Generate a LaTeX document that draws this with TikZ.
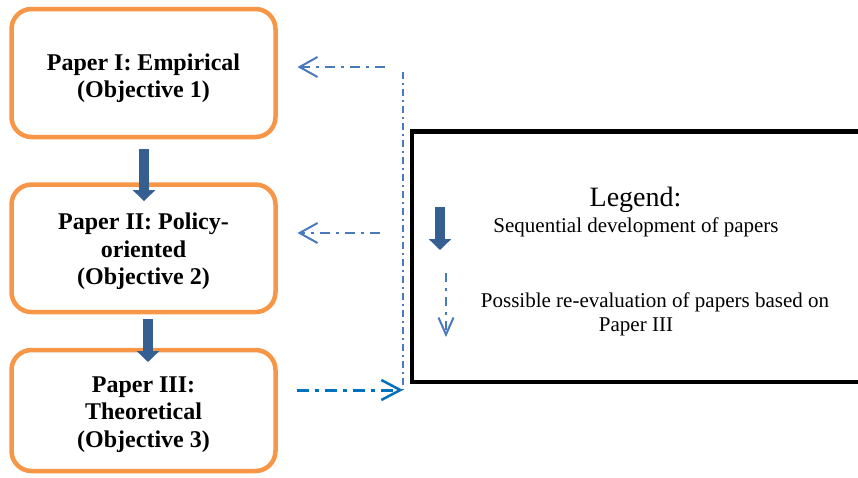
\documentclass[tikz,border=0pt]{standalone}
\usepackage{fontspec}
\setmainfont{Liberation Serif}
\usetikzlibrary{arrows.meta,calc}
\definecolor{boxorange}{RGB}{247,150,70}
\definecolor{seqblue}{RGB}{54,95,145}
\definecolor{evalblue}{RGB}{74,122,190}
\definecolor{evaldark}{RGB}{0,112,192}
\tikzset{
  every node/.style={outer sep=0pt},
  paperbox/.style={draw=boxorange, line width=4.5pt, rounded corners=20pt, fill=white,
    minimum width=264pt, inner sep=0pt},
  papertext/.style={inner sep=0pt, align=center,
    font=\fontsize{24}{27.5}\selectfont\bfseries},
  seqarrow/.style={draw=seqblue, line width=10pt,
    -{Triangle[length=11pt,width=22pt]}},
  evalline/.style={draw=evalblue, line width=2pt,
    dash pattern=on 10pt off 6pt on 3pt off 6pt},
  evalarrow/.style={evalline, -{Straight Barb[length=18pt,width=20pt,line width=2pt]}},
  vline/.style={draw=evalblue, line width=1.6pt,
    dash pattern=on 7pt off 4pt on 2pt off 4pt},
  legtext/.style={anchor=base, inner sep=0pt, font=\fontsize{21}{24}\selectfont},
}
\begin{document}
\begin{tikzpicture}[x=1pt,y=-1pt]
\useasboundingbox (0,0) rectangle (858,477);
\clip (0,0) rectangle (858,477);
% paper boxes
\node[paperbox, minimum height=128pt] (b1) at (143.5,73) {};
\node[paperbox, minimum height=127.5pt] (b2) at (143.5,248.3) {};
\node[paperbox, minimum height=121pt] (b3) at (143.5,410.5) {};
\node[papertext] (b1t) at ($(b1)+(0,5)$) {Paper I: Empirical\\(Objective 1)};
\node[papertext] (b2t) at ($(b2)+(0,3)$) {Paper II: Policy-\\oriented\\(Objective 2)};
\node[papertext] (b3t) at ($(b3)+(0,4)$) {Paper III:\\Theoretical\\(Objective 3)};
% sequential arrows
\draw[seqarrow] ($(b1.south)+(0.5,12)$) -- ($(b2.north)+(0.5,16.5)$);
\draw[seqarrow] ($(b2.south)+(4.5,7)$) -- ($(b3.north)+(4.5,12)$);
% re-evaluation connectors
\coordinate (vtop) at (403,72);
\coordinate (vbot) at (403,390);
\coordinate (r1) at (385,67);
\coordinate (r2) at (380,233);
\draw[vline] (vtop) -- (vbot);
\draw[evalarrow] (r1) -- ($(b1.east |- r1)+(22,0)$);
\draw[evalarrow] (r2) -- ($(b2.east |- r2)+(22,0)$);
\draw[evalline, draw=evaldark, line width=3pt,
  dash pattern=on 12pt off 6pt on 4pt off 6pt,
  -{Straight Barb[length=19pt,width=20pt,line width=2.5pt]}]
  ($(b3.east |- vbot)+(21,0)$) -- (vbot);
% legend
\node[draw=black, line width=4.5pt, anchor=north west, inner sep=0pt,
  minimum width=470pt, minimum height=250.5pt] (legend) at (412,131.5) {};
\node[legtext, font=\fontsize{28}{30}\selectfont] (legtitle) at (635.5,206) {Legend:};
\coordinate (la1) at (440,207);
\coordinate (la2) at (440,250);
\draw[seqarrow] (la1) -- (la2);
\node[legtext] (seqtext) at (636,232) {Sequential development of papers};
\coordinate (lb1) at (446,273);
\coordinate (lb2) at (446,337);
\draw[evalline, line width=2.5pt, dash pattern=on 9pt off 6pt on 3pt off 6pt,
  -{Straight Barb[length=17pt,width=15pt,line width=2pt]}] (lb1) -- (lb2);
\node[legtext] (evaltext1) at (655,307) {Possible re-evaluation of papers based on};
\node[legtext] (evaltext2) at (636,331) {Paper III};
\end{tikzpicture}
\end{document}
